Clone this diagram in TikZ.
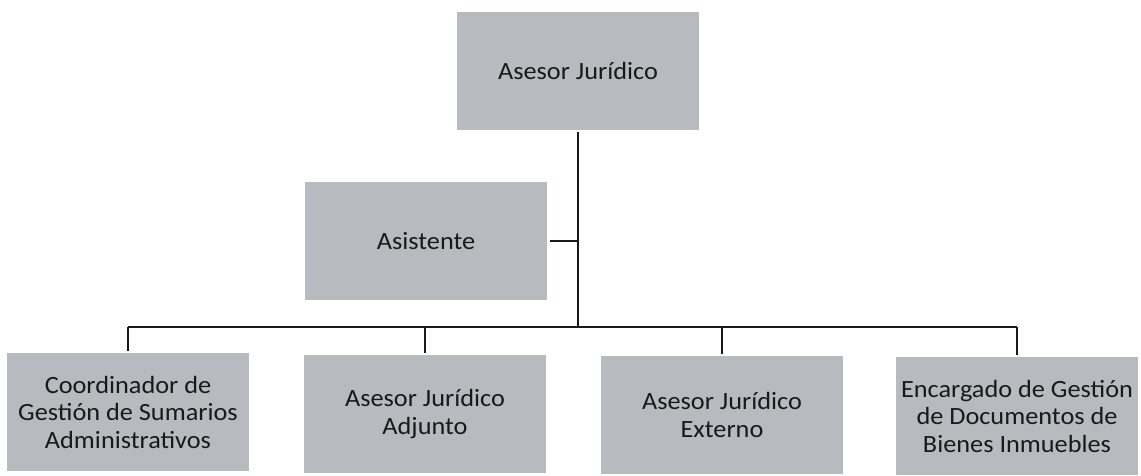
\documentclass[tikz,border=0pt]{standalone}
\usepackage{fontspec}
\setmainfont{Carlito}[FakeStretch=1.06]
\definecolor{boxgray}{RGB}{183,186,190}
\definecolor{inkgray}{RGB}{25,25,28}
\tikzset{
  box/.style={fill=boxgray, minimum width=242pt, minimum height=118pt, inner sep=0pt,
    align=center, text=inkgray, font=\fontsize{24.8}{27.5}\selectfont, outer sep=2.5pt},
  conn/.style={line width=1.5pt, draw=inkgray}
}
\begin{document}
\begin{tikzpicture}[x=1pt,y=-1pt]
\useasboundingbox (0,0) rectangle (1141,475);
\node[box] (top) at (578,70.5) {Asesor Jurídico};
\node[box] (asis) at (426,241) {Asistente};
\node[box] (b1) at (128,412) {Coordinador de\\Gestión de Sumarios\\Administrativos};
\node[box] (b2) at (425,414) {Asesor Jurídico\\Adjunto};
\node[box] (b3) at (722,415) {Asesor Jurídico\\Externo};
\node[box] (b4) at (1017,416) {Encargado de Gestión\\de Documentos de\\Bienes Inmuebles};
\coordinate (bus) at (578,327);
\draw[conn] (top.south) -- (bus);
\draw[conn] (asis.east) -- (asis.east -| bus);
\draw[conn] (b1.north |- bus) -- (b4.north |- bus);
\foreach \n in {b1,b2,b3,b4} \draw[conn] (\n.north |- bus) -- (\n.north);
\end{tikzpicture}
\end{document}
